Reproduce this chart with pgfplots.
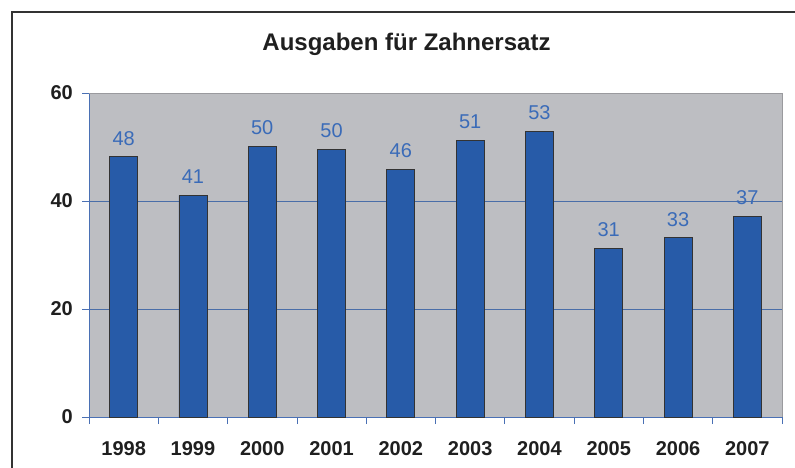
\documentclass[border=0pt]{standalone}
\usepackage{fontspec}
\setmainfont{Liberation Sans}
\usepackage{pgfplots}
\usepackage{pgfplotstable}
\pgfplotsset{compat=1.18}
\definecolor{plotbg}{HTML}{BDBEC2}
\definecolor{barblue}{HTML}{275BA8}
\definecolor{lblblue}{HTML}{3A6BB8}
\definecolor{axblue}{HTML}{4A70B4}
\definecolor{gridc}{HTML}{4A6EA8}
\definecolor{frameg}{HTML}{9A9A9E}
\pgfplotstableread{
x y lab
0 48.2 48
1 41.05 41
2 50.1 50
3 49.6 50
4 45.9 46
5 51.2 51
6 52.96 53
7 31.2 31
8 33.2 33
9 37.2 37
}\datatable
\begin{document}
\begin{tikzpicture}[x=1pt,y=1pt]
\useasboundingbox (0,0) rectangle (795,467);
\draw[color=black!80, line width=1.4pt] (12,-5) -- (12,455) -- (800,455);
\node[anchor=base, font=\fontsize{24}{28}\selectfont\bfseries, text=black!88] at (406.5,416) {Ausgaben für Zahnersatz};
\begin{axis}[
  at={(89pt,50pt)}, anchor=south west,
  scale only axis, width=693pt, height=324pt,
  xmin=-0.5, xmax=9.5, ymin=0, ymax=60,
  axis x line*=bottom, axis y line*=left,
  axis line style={color=axblue, line width=0.8pt},
  axis background/.style={fill=plotbg},
  ytick={0,20,40,60},
  xtick={0,...,9},
  xticklabels={1998,1999,2000,2001,2002,2003,2004,2005,2006,2007},
  minor xtick={-0.5,0.5,...,9.5},
  tick align=outside,
  major tick length=7pt, minor tick length=7pt,
  tick style={color=axblue, line width=0.8pt},
  major x tick style={draw=none},
  ymajorgrids,
  grid style={color=gridc, line width=0.6pt},
  /pgf/number format/assume math mode=true,
  tick label style={font=\fontsize{20}{24}\selectfont\bfseries, text=black!88},
  yticklabel style={inner sep=0pt, anchor=east, xshift=-9pt},
  xticklabel style={inner sep=0pt, anchor=north, yshift=-17pt},
  ybar, bar width=28pt,
  point meta=explicit symbolic,
  nodes near coords={\pgfplotspointmeta},
  every node near coord/.append style={font=\fontsize{20}{24}\selectfont, text=lblblue, anchor=south, inner sep=0pt, yshift=11pt},
  clip=false,
]
\addplot[fill=barblue, draw=black!80, line width=0.9pt] table[x=x, y=y, meta=lab] {\datatable};
\draw[color=frameg, line width=1pt] (rel axis cs:0,1) -- (rel axis cs:1,1) -- (rel axis cs:1,0);
\end{axis}
\end{tikzpicture}
\end{document}
